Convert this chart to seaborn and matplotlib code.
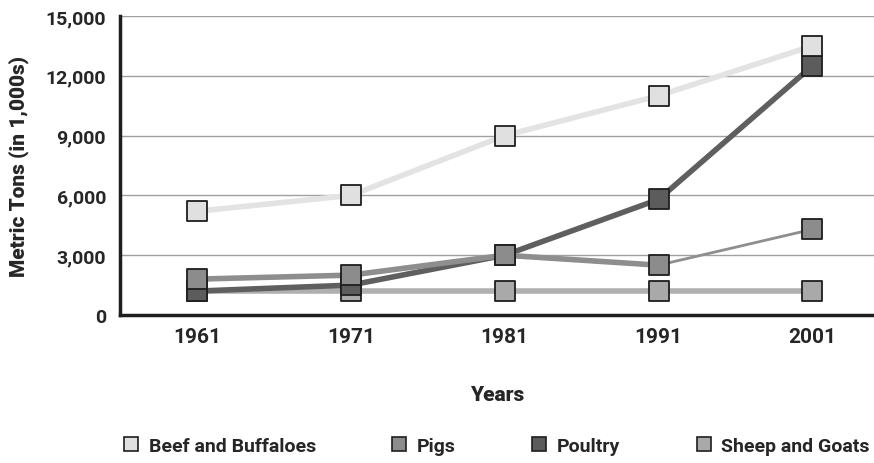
import matplotlib
matplotlib.use("Agg")
import matplotlib.pyplot as plt
from matplotlib.lines import Line2D
import seaborn as sns
import pandas as pd

years = ["1961", "1971", "1981", "1991", "2001"]
beef = [5200, 6000, 9000, 11000, 13500]
pigs = [1800, 2000, 3000, 2500, 4300]
poultry = [1200, 1500, 3000, 5800, 12500]
sheep = [1200, 1200, 1200, 1200, 1200]

series_names = ["Beef and Buffaloes", "Pigs", "Poultry", "Sheep and Goats"]
line_colors = {"Beef and Buffaloes": "#e3e3e3", "Pigs": "#8e8e8e",
               "Poultry": "#5f5f5f", "Sheep and Goats": "#b0b0b0"}
marker_colors = {"Beef and Buffaloes": "#e0e0e0", "Pigs": "#8c8c8c",
                 "Poultry": "#5c5c5c", "Sheep and Goats": "#a9a9a9"}

df = pd.DataFrame({"Year": years, "Beef and Buffaloes": beef, "Pigs": pigs,
                   "Poultry": poultry, "Sheep and Goats": sheep})
df["pos"] = range(len(years))

sns.set_style("white")
plt.rcParams['font.family'] = ['Roboto', 'DejaVu Sans']

fig = plt.figure(figsize=(8.74, 4.64), dpi=100)
ax = fig.add_axes([120 / 874, 148 / 464, 1 - 120 / 874, 299 / 464])

draw_order = ["Sheep and Goats", "Poultry", "Pigs", "Beef and Buffaloes"]
for i, name in enumerate(draw_order):
    if name == "Pigs":
        # thick up to 1991, thin to 2001
        sns.lineplot(data=df.iloc[:4], x="pos", y=name, ax=ax, color=line_colors[name],
                     linewidth=4, zorder=2 + i)
        sns.lineplot(data=df.iloc[3:], x="pos", y=name, ax=ax, color=line_colors[name],
                     linewidth=2, zorder=2 + i)
    else:
        sns.lineplot(data=df, x="pos", y=name, ax=ax, color=line_colors[name],
                     linewidth=4, zorder=2 + i)
    sns.scatterplot(data=df, x="pos", y=name, ax=ax, marker="s", s=200,
                    color=marker_colors[name], edgecolor="#1e1e1e", linewidth=1.3,
                    zorder=10 + i)

label_font = {"size": 15, "weight": 900}
ax.set_xlim(-0.5, 4.4)
ax.set_ylim(0, 15000)
ax.set_yticks(range(0, 15001, 3000))
ax.set_yticklabels([f"{v:,}" for v in range(0, 15001, 3000)], fontdict={"size": 14, "weight": "bold"})
ax.set_xticks(range(len(years)))
ax.set_xticklabels(years, fontdict={"size": 15, "weight": "bold"})
ax.set_xticks([0.5, 1.5, 2.5, 3.5], minor=True)
ax.tick_params(axis="x", which="major", length=0, pad=9)
ax.tick_params(axis="x", which="minor", direction="in", length=8, width=2, color="#1e1e1e")
ax.tick_params(axis="y", length=0, pad=10)
ax.grid(axis="y", color="#a0a0a0", linewidth=1)
ax.set_axisbelow(True)
for s in ["top", "right"]:
    ax.spines[s].set_visible(False)
for s in ["left", "bottom"]:
    ax.spines[s].set_color("#1e1e1e")
    ax.spines[s].set_linewidth(2.5)

ax.set_xlabel("Years", fontdict=label_font, labelpad=28)
ax.set_ylabel("Metric Tons (in 1,000s)", fontdict=label_font, labelpad=12)

handles = [Line2D([], [], linestyle="none", marker="s", markersize=10,
                  markerfacecolor=marker_colors[n], markeredgecolor="#1e1e1e",
                  markeredgewidth=1.2) for n in series_names]
fig.legend(handles, series_names, loc="center", bbox_to_anchor=(0.567, 1 - 447 / 464),
           ncol=4, frameon=False, handlelength=1.0, handletextpad=0.4, columnspacing=3.8,
           prop={"weight": "bold", "size": 14})

fig.savefig("out.png", dpi=100)
